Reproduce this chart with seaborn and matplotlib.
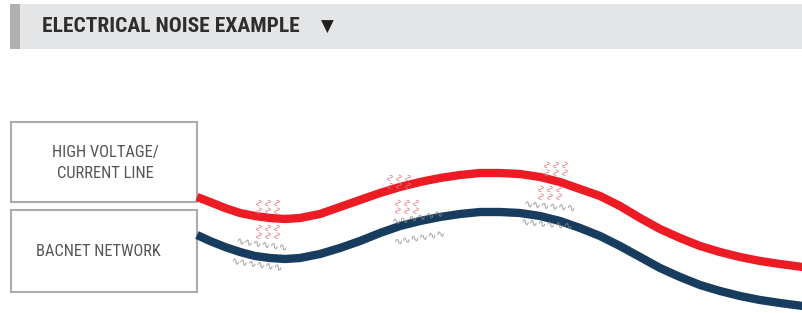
import matplotlib
matplotlib.use("Agg")
import matplotlib.pyplot as plt
from matplotlib import font_manager
from matplotlib.patches import Rectangle
import seaborn as sns

# wire paths (pixel coords, y grows downward)
wire_x = [197, 210, 225, 240, 255, 270, 285, 300, 320, 340, 360, 380, 400, 420, 440, 460,
          480, 500, 520, 540, 560, 580, 600, 620, 640, 660, 680, 700, 720, 740, 760, 780, 803]
power_y = [197, 202, 208, 213, 216, 218, 219, 218, 214, 207, 200, 193, 187, 182, 178, 175,
           173, 173, 174, 177, 182, 189, 196, 206, 218, 229, 238, 246, 252, 257, 261, 264, 267]
bacnet_y = [235, 241, 247, 252, 256, 258, 259, 258, 254, 248, 241, 233, 226, 221, 217, 214,
            212, 212, 213, 216, 221, 228, 236, 246, 257, 268, 277, 285, 291, 296, 300, 303, 306]

# noise marks: red (radiated) above/below power line, grey (induced) around bacnet line
red_noise_x = [259, 268, 277, 259, 268, 277,
               390, 399, 408, 398, 407, 416,
               547, 556, 565, 541, 550, 559]
red_noise_y = [204, 204, 204, 229, 229, 229,
               179, 179, 179, 204, 204, 204,
               166, 166, 166, 190, 190, 190]
grey_noise_x = [262, 257, 418, 420, 550, 547]
grey_noise_y = [245, 265, 218, 238, 206, 224]
grey_noise_rot = [-8, -8, 10, 10, -5, -5]

title = "ELECTRICAL NOISE EXAMPLE"
box_labels = ["HIGH VOLTAGE/\nCURRENT LINE", "BACNET NETWORK"]


def wnum(w):
    return w if isinstance(w, int) else font_manager.weight_dict.get(w, 400)


# the original uses a condensed sans (bold title, regular labels)
faces = {}
for f in font_manager.fontManager.ttflist:
    narrow = ("Narrow" in f.name or "Condensed" in f.name or f.stretch in
              ("condensed", "semi-condensed", "extra-condensed", 300))
    if narrow and f.style == "normal":
        faces.setdefault(f.name, set()).add(wnum(f.weight))

prefs = ["Roboto Condensed", "Liberation Sans Narrow", "DejaVu Sans", "Open Sans Condensed",
         "Noto Sans Condensed", "Arial Narrow"]
bold_fam, reg_fam = None, None
for p in prefs + sorted(faces):
    if p in faces:
        if bold_fam is None and max(faces[p]) >= 600:
            bold_fam = p
        if reg_fam is None and any(350 <= w <= 500 for w in faces[p]):
            reg_fam = p
bold_fam = bold_fam or "DejaVu Sans"
reg_fam = reg_fam or "DejaVu Sans"
stretch = "condensed"

sns.set_style("white")
plt.rcParams["font.family"] = ["DejaVu Sans"]

fig = plt.figure(figsize=(8.03, 3.13), dpi=100)
ax = fig.add_axes([0, 0, 1, 1])

# header band
ax.add_patch(Rectangle((20, 4), 783, 45, facecolor="#e4e5e7", edgecolor="none"))
ax.add_patch(Rectangle((10, 4), 10, 45, facecolor="#b0b0b0", edgecolor="none"))
t_title = ax.text(42, 27, title, fontsize=14, fontweight="bold", color="#2e2e2e",
                  va="center", ha="left", family=[bold_fam, "DejaVu Sans"], fontstretch=stretch)
ax.text(327, 26.5, "\u25bc", fontsize=12, color="#1e1e1e", va="center", ha="center",
        family=["DejaVu Sans"])

# label boxes
ax.add_patch(Rectangle((11, 122), 186, 80, facecolor="white", edgecolor="#a8acb0", lw=1.5))
ax.add_patch(Rectangle((11, 210), 186, 82, facecolor="white", edgecolor="#a8acb0", lw=1.5))
t_box1 = ax.text(105, 163, box_labels[0], fontsize=11, color="#555555", ha="center",
                 va="center", linespacing=1.45, family=[reg_fam, "DejaVu Sans"],
                 fontstretch=stretch)
t_box2 = ax.text(98, 251, box_labels[1], fontsize=11, color="#555555", ha="center",
                 va="center", family=[reg_fam, "DejaVu Sans"], fontstretch=stretch)

# wires
sns.lineplot(x=wire_x, y=power_y, sort=False, color="#ed1c24", lw=6, ax=ax,
             solid_capstyle="butt", solid_joinstyle="round")
sns.lineplot(x=wire_x, y=bacnet_y, sort=False, color="#173c5e", lw=6, ax=ax,
             solid_capstyle="butt", solid_joinstyle="round")
ax.set_xlim(0, 803)
ax.set_ylim(313, 0)
ax.axis("off")

# noise squiggles
for x, y in zip(red_noise_x, red_noise_y):
    ax.text(x, y, "\u223f\u223f", fontsize=7.5, color="#e27b82", rotation=90,
            ha="center", va="center", family=["DejaVu Sans"])
for x, y, r in zip(grey_noise_x, grey_noise_y, grey_noise_rot):
    ax.text(x, y, "\u223f" * 6, fontsize=7.5, color="#8a8a8a", rotation=r,
            ha="center", va="center", family=["DejaVu Sans"])

# fit text widths to the reference (title ~258px, labels ~105px and ~124px)
fig.canvas.draw()
r = fig.canvas.get_renderer()
for t, target in [(t_title, 258), (t_box1, 106), (t_box2, 124)]:
    w = t.get_window_extent(r).width
    t.set_fontsize(t.get_fontsize() * target / w)

fig.savefig("out.png", dpi=100)
